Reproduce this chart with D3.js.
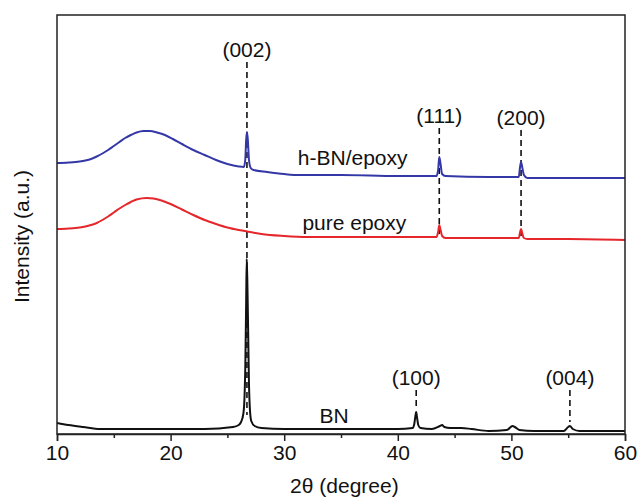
<!DOCTYPE html>
<html>
<head>
<meta charset="utf-8">
<script src="https://cdn.jsdelivr.net/npm/d3@7"></script>
<style>
  body { margin: 0; background: #fff; }
  svg text { font-family: "Liberation Sans", Arial, sans-serif; fill: #111; }
</style>
</head>
<body>
<svg id="chart"></svg>
<script>
// 2θ (degree), intensity (a.u.)
const hbnEpoxy = [
  [10, 271], [11, 271.5], [12, 272.5], [12.5, 273.5], [13, 275], [13.5, 277.5], [14, 280.5],
  [14.5, 284], [15, 288], [15.5, 292], [16, 296], [16.5, 299], [17, 301.5], [17.6, 303],
  [18.2, 303], [18.8, 301.5], [19.5, 299], [20.2, 295], [21, 290], [22, 284], [23, 279],
  [24, 274], [25, 270], [26, 267.5], [26.45, 267],
  [26.57, 274], [26.65, 294], [26.72, 302], [26.8, 294], [26.9, 274], [27.05, 266],
  [27.3, 264], [28.5, 262], [30, 260], [31.4, 259], [35, 259], [40, 258], [43.4, 258],
  [43.55, 264], [43.65, 277], [43.75, 271], [43.9, 260], [44.2, 258], [48, 257],
  [50.65, 257], [50.75, 266], [50.85, 272], [50.95, 267], [51.1, 259], [51.4, 256],
  [55, 256], [60, 256]
];
const pureEpoxy = [
  [10, 205], [11, 205.5], [12, 206.5], [12.5, 207.5], [13, 209], [13.5, 211], [14, 214],
  [14.5, 217.5], [15, 221.5], [15.5, 225.5], [16, 229], [16.5, 232], [17, 234.5],
  [17.9, 236], [18.5, 235.5], [19.2, 233.5], [20, 230], [21, 224.5], [22, 219], [23, 214],
  [24, 210], [25, 206.5], [26, 204], [27, 202], [28, 200], [30, 198],
  [32, 197], [35, 197], [40, 197], [43.4, 197], [43.55, 202], [43.65, 209],
  [43.75, 205], [43.9, 198], [44.2, 196], [48, 196], [50.65, 196], [50.75, 201],
  [50.85, 205], [50.95, 201], [51.1, 196], [51.4, 195], [55, 195], [60, 194]
];
const bn = [
  [10, 11], [11, 9], [12.3, 7], [13.8, 5], [16, 5], [20, 5], [23, 5], [25.5, 7],
  [26.0, 9], [26.2, 12], [26.4, 20], [26.5, 35], [26.58, 70], [26.65, 130], [26.7, 175],
  [26.76, 150], [26.83, 100], [26.9, 50], [26.98, 25], [27.1, 13], [27.4, 8], [28, 6],
  [30, 5], [35, 5], [40, 5], [41.3, 6], [41.45, 10], [41.55, 18], [41.62, 22],
  [41.7, 16], [41.8, 9], [42, 6], [43, 5], [43.7, 8], [43.9, 9], [44.1, 7], [44.6, 6],
  [45.6, 6], [46.5, 5], [48, 3], [49.6, 4], [50.1, 8], [50.3, 7], [50.7, 4], [52, 3],
  [54.6, 3], [55.0, 7], [55.15, 8], [55.4, 5], [56, 3], [60, 3]
];

const seriesNames = ['h-BN/epoxy', 'pure epoxy', 'BN'];
const seriesColors = ['#3438a6', '#e5262b', '#111111'];

// reflection labels: hkl, 2θ, dashed line from/to intensity
const peakLabels = ['(002)', '(111)', '(200)', '(100)', '(004)'];
const peakAngles = [26.72, 43.65, 50.85, 41.62, 55.15];
const peakTop = [372, 306, 304, 44, 44];
const peakBottom = [19, 197, 197, 26, 12];

const xTicks = [10, 20, 30, 40, 50, 60];

const width = 638;
const height = 497;
const margin = { top: 15, right: 13, bottom: 63, left: 57 };
const fontSize = 21;

const svg = d3.select('#chart')
  .attr('width', width)
  .attr('height', height);

const x = d3.scaleLinear()
  .domain([10, 60])
  .range([margin.left, width - margin.right]);

const y = d3.scaleLinear()
  .domain([0, 419])
  .range([height - margin.bottom, margin.top]);

const line = d3.line()
  .x((d) => x(d[0]))
  .y((d) => y(d[1]))
  .curve(d3.curveMonotoneX);

// dashed guides
peakLabels.forEach((lab, i) => {
  svg.append('line')
    .attr('x1', x(peakAngles[i]))
    .attr('x2', x(peakAngles[i]))
    .attr('y1', y(peakTop[i]))
    .attr('y2', y(peakBottom[i]))
    .attr('stroke', '#111')
    .attr('stroke-width', 1.6)
    .attr('stroke-dasharray', '6,4');

  svg.append('text')
    .attr('x', x(peakAngles[i]))
    .attr('y', y(peakTop[i]) - 5)
    .attr('text-anchor', 'middle')
    .attr('font-size', fontSize)
    .text(lab);
});

[hbnEpoxy, pureEpoxy, bn].forEach((data, i) => {
  svg.append('path')
    .datum(data)
    .attr('fill', 'none')
    .attr('stroke', seriesColors[i])
    .attr('stroke-width', 2)
    .attr('stroke-linejoin', 'round')
    .attr('d', line);
});

// curve names
const nameAt = [[31.2, 269], [31.6, 204], [33.1, 11]];
seriesNames.forEach((name, i) => {
  svg.append('text')
    .attr('x', x(nameAt[i][0]))
    .attr('y', y(nameAt[i][1]))
    .attr('font-size', fontSize)
    .text(name);
});

// frame
svg.append('rect')
  .attr('x', margin.left)
  .attr('y', margin.top)
  .attr('width', width - margin.left - margin.right)
  .attr('height', height - margin.top - margin.bottom)
  .attr('fill', 'none')
  .attr('stroke', '#222')
  .attr('stroke-width', 1.5);

const xAxis = d3.axisBottom(x)
  .tickValues(xTicks)
  .tickSize(7)
  .tickPadding(4)
  .tickFormat(d3.format('d'));

const gx = svg.append('g')
  .attr('transform', `translate(0,${height - margin.bottom})`)
  .call(xAxis);
gx.select('.domain').attr('stroke', '#222').attr('stroke-width', 1.5);
gx.selectAll('.tick line').attr('stroke', '#222').attr('stroke-width', 1.5);
gx.selectAll('.tick text')
  .attr('font-size', fontSize)
  .attr('font-family', '"Liberation Sans", Arial, sans-serif')
  .attr('fill', '#111');

const minor = d3.axisBottom(x)
  .tickValues([15, 25, 35, 45, 55])
  .tickSize(4)
  .tickFormat('');
const gm = svg.append('g')
  .attr('transform', `translate(0,${height - margin.bottom})`)
  .call(minor);
gm.select('.domain').remove();
gm.selectAll('.tick line').attr('stroke', '#222').attr('stroke-width', 1.5);

svg.append('text')
  .attr('x', x(35.3))
  .attr('y', 493)
  .attr('text-anchor', 'middle')
  .attr('font-size', fontSize)
  .text('2θ (degree)');

svg.append('text')
  .attr('transform', `translate(29,${(margin.top + height - margin.bottom) / 2 + 12}) rotate(-90)`)
  .attr('text-anchor', 'middle')
  .attr('font-size', fontSize)
  .text('Intensity (a.u.)');
</script>
</body>
</html>
